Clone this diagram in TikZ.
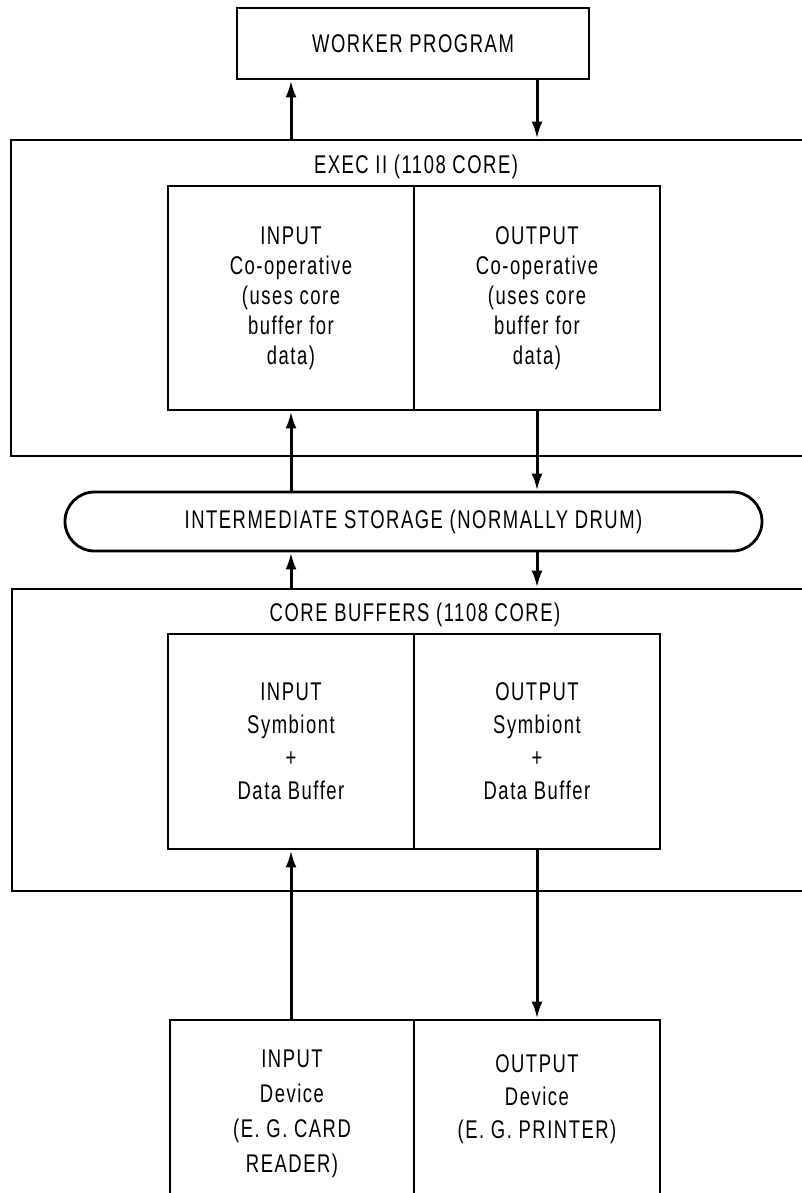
\documentclass[tikz,border=0pt]{standalone}
\usepackage{fontspec}
\setmainfont{Liberation Sans}[FakeStretch=0.72,LetterSpace=6]
\usetikzlibrary{arrows.meta,positioning}

\begin{document}
\begin{tikzpicture}[x=0.5pt,y=-0.5pt,
  box/.style={draw,line width=1.4pt,inner sep=0pt,align=center},
  txt/.style={inner sep=0pt,align=center},
  flow/.style={line width=1.5pt,-{Latex[length=8.5pt,width=5.5pt]}},
  every node/.append style={font=\fontsize{12.8}{15}\selectfont}]

\useasboundingbox (0,0) rectangle (802,1193);
\clip (0,0) rectangle (802,1193);

% worker program
\node[box,minimum width=176pt,minimum height=35.5pt] (worker) at (413,43.5) {WORKER PROGRAM};

% exec II, runs off the right edge
\node[box,minimum width=420pt,minimum height=158pt] (exec) at (431,298) {};
\node[txt] (exectitle) at (416,167) {EXEC II (1108 CORE)};
\node[box,minimum width=123pt,minimum height=112pt] (excin) at (291,298)
  {INPUT\\Co-operative\\(uses core\\buffer for\\data)};
\node[box,minimum width=123pt,minimum height=112pt] (excout) at (537,298)
  {OUTPUT\\Co-operative\\(uses core\\buffer for\\data)};

% drum
\node[box,rounded corners=14.75pt,minimum width=348.5pt,minimum height=29.5pt] (store) at (413.5,521.5)
  {INTERMEDIATE STORAGE (NORMALLY DRUM)};

% core buffers
\node[box,minimum width=419pt,minimum height=151pt] (core) at (431,740) {};
\node[txt] (coretitle) at (415,615) {CORE BUFFERS (1108 CORE)};
\node[box,minimum width=123pt,minimum height=107.5pt,font=\fontsize{12.8}{16.5}\selectfont] (corein) at (291,741.5)
  {INPUT\\Symbiont\\+\\Data Buffer};
\node[box,minimum width=123pt,minimum height=107.5pt,font=\fontsize{12.8}{16.5}\selectfont] (coreout) at (537,741.5)
  {OUTPUT\\Symbiont\\+\\Data Buffer};

% devices, cut off at the bottom
\node[box,minimum width=122pt,minimum height=100pt] (devin) at (292,1120) {};
\node[box,minimum width=123pt,minimum height=100pt] (devout) at (537,1120) {};
\node[txt,anchor=north,font=\fontsize{12.8}{17.5}\selectfont] (devintxt) at ([yshift=-15.5pt]devin.north)
  {INPUT\\Device\\(E. G. CARD\\READER)};
\node[txt,anchor=north,font=\fontsize{12.8}{16.5}\selectfont] (devouttxt) at ([yshift=-18pt]devout.north)
  {OUTPUT\\Device\\(E. G. PRINTER)};

\draw[flow] (exec.north -| excin) -- (worker.south -| excin);
\draw[flow] (worker.south -| excout) -- (exec.north -| excout);
\draw[flow] (store.north -| excin) -- (excin.south);
\draw[flow] (excout.south) -- (store.north -| excout);
\draw[flow] (core.north -| corein) -- (store.south -| corein);
\draw[flow] (store.south -| coreout) -- (core.north -| coreout);
\draw[flow] (devin.north -| corein) -- (corein.south);
\draw[flow] (coreout.south) -- (devout.north -| coreout);

\end{tikzpicture}
\end{document}
